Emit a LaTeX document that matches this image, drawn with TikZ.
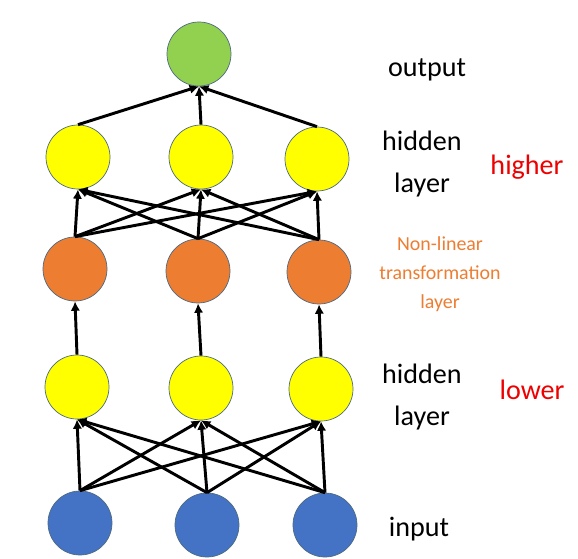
\documentclass[tikz,border=0pt]{standalone}
\usepackage{fontspec}
\setmainfont{Carlito}
\usetikzlibrary{arrows.meta}
\definecolor{outgreen}{HTML}{92D050}
\definecolor{hidyellow}{HTML}{FFFF00}
\definecolor{nlorange}{HTML}{ED7D31}
\definecolor{inblue}{HTML}{4472C4}
\definecolor{rimgrey}{HTML}{4E6A82}
\definecolor{markred}{HTML}{EE0000}
\tikzset{
  neuron/.style={circle, draw=rimgrey, line width=0.6pt, minimum size=1.92cm, inner sep=0pt},
  conn/.style={-{Latex[length=8pt,width=8pt]}, line width=2.5pt},
  lbl/.style={font=\fontsize{24}{35}\selectfont, align=center},
  tag/.style={font=\fontsize{24}{30}\selectfont, text=markred},
}
\begin{document}
\begin{tikzpicture}[x=0.03cm, y=-0.03cm]
    \useasboundingbox (0,0) rectangle (578,559);
    % Output
    \node[neuron, fill=outgreen] (out) at (199,54) {};
    % Higher hidden layer
    \node[neuron, fill=hidyellow] (hh1) at (78,157) {};
    \node[neuron, fill=hidyellow] (hh2) at (201,157) {};
    \node[neuron, fill=hidyellow] (hh3) at (317,159) {};
    % Non-linear layer
    \node[neuron, fill=nlorange] (nl1) at (75,269) {};
    \node[neuron, fill=nlorange] (nl2) at (198,271) {};
    \node[neuron, fill=nlorange] (nl3) at (319,272) {};
    % Lower hidden layer
    \node[neuron, fill=hidyellow] (lh1) at (77,387) {};
    \node[neuron, fill=hidyellow] (lh2) at (201,388) {};
    \node[neuron, fill=hidyellow] (lh3) at (321,389) {};
    % Input
    \node[neuron, fill=inblue] (in1) at (80,523) {};
    \node[neuron, fill=inblue] (in2) at (207,525) {};
    \node[neuron, fill=inblue] (in3) at (325,525) {};
    % Input to lower hidden
    \draw[conn] (in1.north) -- (lh1.south);
    \draw[conn] (in1.north) -- (lh2.south);
    \draw[conn] (in1.north) -- (lh3.south);
    \draw[conn] (in2.north) -- (lh1.south);
    \draw[conn] (in2.north) -- (lh2.south);
    \draw[conn] (in2.north) -- (lh3.south);
    \draw[conn] (in3.north) -- (lh1.south);
    \draw[conn] (in3.north) -- (lh2.south);
    \draw[conn] (in3.north) -- (lh3.south);
    % Lower hidden to non-linear
    \draw[conn] (lh1.north) -- (nl1.south);
    \draw[conn] (lh2.north) -- (nl2.south);
    \draw[conn] (lh3.north) -- (nl3.south);
    % Non-linear to higher hidden
    \draw[conn] (nl1.north) -- (hh1.south);
    \draw[conn] (nl1.north) -- (hh2.south);
    \draw[conn] (nl1.north) -- (hh3.south);
    \draw[conn] (nl2.north) -- (hh1.south);
    \draw[conn] (nl2.north) -- (hh2.south);
    \draw[conn] (nl2.north) -- (hh3.south);
    \draw[conn] (nl3.north) -- (hh1.south);
    \draw[conn] (nl3.north) -- (hh2.south);
    \draw[conn] (nl3.north) -- (hh3.south);
    % Higher hidden to output
    \draw[conn] (hh1.north) -- (out.south);
    \draw[conn] (hh2.north) -- (out.south);
    \draw[conn] (hh3.north) -- (out.south);
    % Labels
    \node[lbl] (outlbl) at (427,70) {output};
    \node[lbl] (hhlbl) at (422,164) {hidden\\layer};
    \node[tag] (higher) at (527,167) {higher};
    \node[font=\fontsize{17}{25}\selectfont, align=center, text=nlorange] (nllbl) at (440,274) {Non-linear\\transformation\\layer};
    \node[lbl] (lhlbl) at (422,397) {hidden\\layer};
    \node[tag] (lower) at (532,390) {lower};
    \node[lbl] (inlbl) at (419,529) {input};
\end{tikzpicture}
\end{document}
